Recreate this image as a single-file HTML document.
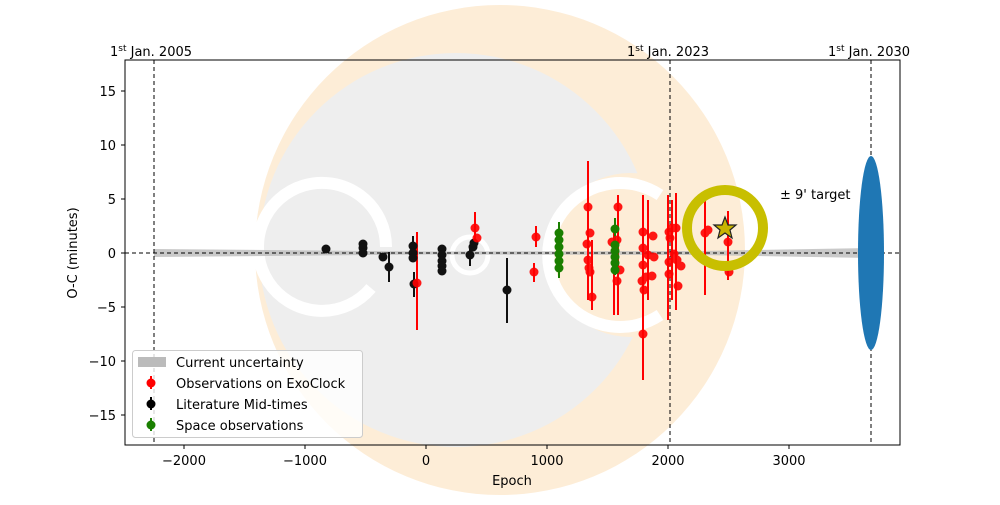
<!DOCTYPE html>
<html><head><meta charset="utf-8"><style>
body{margin:0;background:#fff}
svg text{font-family:"DejaVu Sans","Liberation Sans",sans-serif;font-size:13px;fill:#000}
</style></head><body>
<svg width="1000" height="500" viewBox="0 0 1000 500" xmlns="http://www.w3.org/2000/svg">
<circle cx="500" cy="250" r="245" fill="#fdedd7"/>
<circle cx="456" cy="250" r="197" fill="#eeeeee"/>
<circle cx="630" cy="255" r="82" fill="#fdedd7"/>
<path d="M386 247 A64 64 0 1 0 371 288" fill="none" stroke="#fff" stroke-width="12"/>
<line x1="264" y1="247" x2="386" y2="247" stroke="#fff" stroke-width="0"/>
<circle cx="470" cy="255" r="18" fill="none" stroke="#fff" stroke-width="5"/>
<path d="M660 195 A72 72 0 1 0 660 315" fill="none" stroke="#fff" stroke-width="12"/>
<rect x="125" y="60" width="775" height="385" fill="none" stroke="#000" stroke-width="1"/>
<polygon points="154,249 426,251.5 700,251 871,248 871,258 700,255 426,254.5 154,257" fill="#bbb" opacity="0.8"/>
<line x1="125" y1="253" x2="900" y2="253" stroke="#000" stroke-dasharray="4,3"/>
<g stroke="#000" stroke-dasharray="4,3">
<line x1="154" y1="60" x2="154" y2="445"/>
<line x1="670" y1="60" x2="670" y2="445"/>
<line x1="871" y1="60" x2="871" y2="445"/>
</g>
<ellipse cx="871" cy="253" rx="13" ry="97" fill="#1f77b4"/>
<g stroke="#111" stroke-width="2">
<line x1="389" y1="252" x2="389" y2="282"/><line x1="414" y1="272" x2="414" y2="297"/>
<line x1="507" y1="258" x2="507" y2="323"/><line x1="413" y1="236" x2="413" y2="262"/>
<line x1="470" y1="245" x2="470" y2="266"/>
</g>
<g stroke="#f00" stroke-width="2">
<line x1="417" y1="232" x2="417" y2="330"/><line x1="475" y1="212" x2="475" y2="240"/>
<line x1="536" y1="226" x2="536" y2="247"/><line x1="534" y1="263" x2="534" y2="282"/>
<line x1="588" y1="161" x2="588" y2="300"/><line x1="592" y1="240" x2="592" y2="310"/>
<line x1="618" y1="195" x2="618" y2="315"/><line x1="614" y1="230" x2="614" y2="315"/>
<line x1="643" y1="195" x2="643" y2="380"/><line x1="648" y1="200" x2="648" y2="300"/>
<line x1="668" y1="195" x2="668" y2="320"/><line x1="676" y1="193" x2="676" y2="310"/>
<line x1="672" y1="200" x2="672" y2="300"/><line x1="705" y1="200" x2="705" y2="295"/>
<line x1="728" y1="211" x2="728" y2="280"/>
</g>
<g stroke="#1a7f00" stroke-width="2">
<line x1="559" y1="222" x2="559" y2="278"/><line x1="615" y1="218" x2="615" y2="275"/>
</g>
<g fill="#111">
<circle cx="326" cy="249" r="4.5"/><circle cx="363" cy="244" r="4.5"/><circle cx="363" cy="248" r="4.5"/><circle cx="363" cy="253" r="4.5"/>
<circle cx="383" cy="257" r="4.5"/><circle cx="389" cy="267" r="4.5"/><circle cx="413" cy="246" r="4.5"/><circle cx="413" cy="253" r="4.5"/><circle cx="413" cy="258" r="4.5"/>
<circle cx="414" cy="284" r="4.5"/><circle cx="442" cy="249" r="4.5"/><circle cx="442" cy="255" r="4.5"/><circle cx="442" cy="261" r="4.5"/><circle cx="442" cy="266" r="4.5"/><circle cx="442" cy="271" r="4.5"/>
<circle cx="470" cy="255" r="4.5"/><circle cx="473" cy="247" r="4.5"/><circle cx="474" cy="243" r="4.5"/><circle cx="507" cy="290" r="4.5"/>
</g>
<g fill="#f00" opacity="0.9">
<circle cx="417" cy="283" r="4.5"/><circle cx="475" cy="228" r="4.5"/><circle cx="477" cy="238" r="4.5"/>
<circle cx="536" cy="237" r="4.5"/><circle cx="534" cy="272" r="4.5"/>
<circle cx="588" cy="207" r="4.5"/><circle cx="590" cy="233" r="4.5"/><circle cx="587" cy="244" r="4.5"/><circle cx="588" cy="260" r="4.5"/><circle cx="589" cy="268" r="4.5"/><circle cx="590" cy="272" r="4.5"/><circle cx="592" cy="297" r="4.5"/>
<circle cx="618" cy="207" r="4.5"/><circle cx="617" cy="240" r="4.5"/><circle cx="620" cy="270" r="4.5"/><circle cx="617" cy="281" r="4.5"/><circle cx="612" cy="242" r="4.5"/>
<circle cx="643" cy="232" r="4.5"/><circle cx="643" cy="248" r="4.5"/><circle cx="643" cy="265" r="4.5"/><circle cx="642" cy="281" r="4.5"/><circle cx="644" cy="290" r="4.5"/><circle cx="643" cy="334" r="4.5"/>
<circle cx="646" cy="277" r="4.5"/><circle cx="648" cy="255" r="4.5"/><circle cx="653" cy="236" r="4.5"/><circle cx="654" cy="257" r="4.5"/><circle cx="652" cy="276" r="4.5"/>
<circle cx="669" cy="232" r="4.5"/><circle cx="670" cy="238" r="4.5"/><circle cx="669" cy="262" r="4.5"/><circle cx="669" cy="274" r="4.5"/><circle cx="672" cy="228" r="4.5"/><circle cx="674" cy="254" r="4.5"/>
<circle cx="677" cy="260" r="4.5"/><circle cx="681" cy="266" r="4.5"/><circle cx="678" cy="286" r="4.5"/><circle cx="676" cy="228" r="4.5"/>
<circle cx="705" cy="233" r="4.5"/><circle cx="708" cy="230" r="4.5"/><circle cx="728" cy="242" r="4.5"/><circle cx="729" cy="272" r="4.5"/>
</g>
<g fill="#1a7f00">
<circle cx="559" cy="233" r="4.5"/><circle cx="559" cy="240" r="4.5"/><circle cx="559" cy="247" r="4.5"/><circle cx="559" cy="254" r="4.5"/><circle cx="559" cy="261" r="4.5"/><circle cx="559" cy="268" r="4.5"/>
<circle cx="615" cy="229" r="4.5"/><circle cx="615" cy="245" r="4.5"/><circle cx="615" cy="251" r="4.5"/><circle cx="615" cy="257" r="4.5"/><circle cx="615" cy="263" r="4.5"/><circle cx="615" cy="270" r="4.5"/>
</g>
<circle cx="725" cy="228" r="38" fill="none" stroke="#c8bf00" stroke-width="10"/>
<polygon points="725,217 728,225 736,225 730,230 732,238 725,233 718,238 720,230 714,225 722,225" fill="#c8b400" stroke="#222" stroke-width="1.2"/>
<text x="780" y="199">± 9' target</text>
<text x="110" y="56">1<tspan dy="-5" font-size="9">st</tspan><tspan dy="5"> Jan. 2005</tspan></text>
<text x="627" y="56">1<tspan dy="-5" font-size="9">st</tspan><tspan dy="5"> Jan. 2023</tspan></text>
<text x="828" y="56">1<tspan dy="-5" font-size="9">st</tspan><tspan dy="5"> Jan. 2030</tspan></text>
<g stroke="#000"><line x1="184" y1="445" x2="184" y2="449"/><line x1="305" y1="445" x2="305" y2="449"/><line x1="426" y1="445" x2="426" y2="449"/><line x1="547" y1="445" x2="547" y2="449"/><line x1="668" y1="445" x2="668" y2="449"/><line x1="789" y1="445" x2="789" y2="449"/>
<line x1="121" y1="91" x2="125" y2="91"/><line x1="121" y1="145" x2="125" y2="145"/><line x1="121" y1="199" x2="125" y2="199"/><line x1="121" y1="253" x2="125" y2="253"/><line x1="121" y1="307" x2="125" y2="307"/><line x1="121" y1="361" x2="125" y2="361"/><line x1="121" y1="415" x2="125" y2="415"/></g>
<g text-anchor="middle"><text x="184" y="465">−2000</text><text x="305" y="465">−1000</text><text x="426" y="465">0</text><text x="547" y="465">1000</text><text x="668" y="465">2000</text><text x="789" y="465">3000</text>
<text x="512" y="485">Epoch</text></g>
<g text-anchor="end"><text x="116" y="96">15</text><text x="116" y="150">10</text><text x="116" y="204">5</text><text x="116" y="258">0</text><text x="116" y="312">−5</text><text x="116" y="366">−10</text><text x="116" y="420">−15</text></g>
<text transform="translate(77,253) rotate(-90)" text-anchor="middle">O-C (minutes)</text>
<rect x="132.5" y="350.5" width="230" height="87" rx="3" fill="#fff" fill-opacity="0.8" stroke="#ccc"/>
<rect x="138" y="357" width="28" height="10" fill="#bbb"/>
<line x1="151" y1="376" x2="151" y2="389" stroke="#f00" stroke-width="2"/><circle cx="151" cy="383" r="4.5" fill="#f00"/>
<line x1="151" y1="397" x2="151" y2="410" stroke="#000" stroke-width="2"/><circle cx="151" cy="404" r="4.5" fill="#000"/>
<line x1="151" y1="418" x2="151" y2="431" stroke="#1a7f00" stroke-width="2"/><circle cx="151" cy="425" r="4.5" fill="#1a7f00"/>
<text x="176" y="367">Current uncertainty</text>
<text x="176" y="388">Observations on ExoClock</text>
<text x="176" y="409">Literature Mid-times</text>
<text x="176" y="430">Space observations</text>
</svg>
</body></html>
